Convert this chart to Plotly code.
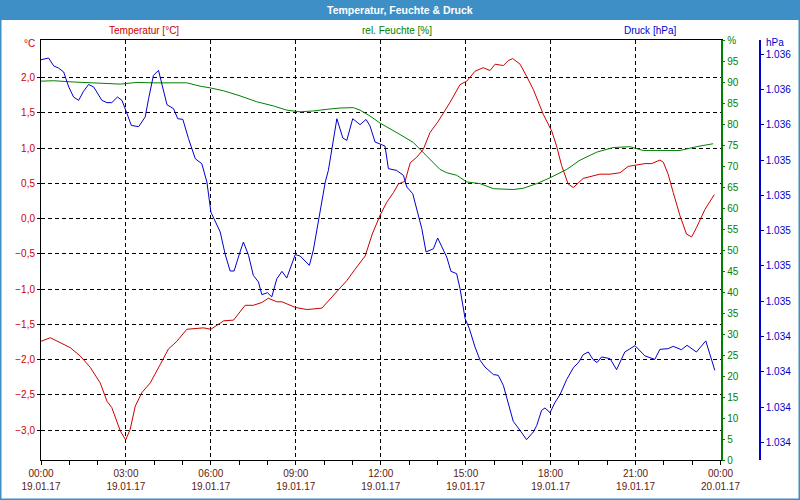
import plotly.graph_objects as go
import pandas as pd

# ---------------- data (hours after 19.01.17 00:00) ----------------
temp_h = [0.0, 0.33, 1.03, 1.39, 1.74, 2.09, 2.33, 2.5, 2.8, 2.99, 3.15, 3.33, 3.56, 3.86,
          4.21, 4.5, 4.8, 5.15, 5.74, 6.0, 6.45, 6.8, 7.21, 7.5, 7.8, 8.03, 8.33, 8.51,
          8.98, 9.39, 9.92, 10.21, 10.45, 10.8, 11.09, 11.45, 11.7, 11.98, 12.21, 12.45,
          12.62, 12.86, 13.04, 13.27, 13.5, 13.74, 14.03, 14.45, 14.8, 15.04, 15.33, 15.62,
          15.86, 16.04, 16.33, 16.5, 16.66, 16.92, 17.15, 17.39, 17.74, 18.04, 18.21, 18.39,
          18.62, 18.8, 19.15, 19.5, 19.74, 20.1, 20.45, 20.74, 21.04, 21.33, 21.57, 21.86,
          21.98, 22.15, 22.33, 22.57, 22.8, 22.98, 23.15, 23.45, 23.78]
temp_v = [-1.74, -1.69, -1.83, -1.95, -2.11, -2.33, -2.59, -2.68, -3.01, -3.14, -2.99, -2.66,
          -2.47, -2.33, -2.07, -1.85, -1.74, -1.57, -1.55, -1.57, -1.45, -1.44, -1.23, -1.23,
          -1.19, -1.13, -1.18, -1.18, -1.26, -1.29, -1.27, -1.14, -1.03, -0.88, -0.72, -0.53,
          -0.22, 0.05, 0.23, 0.37, 0.49, 0.53, 0.79, 0.87, 0.98, 1.22, 1.38, 1.65, 1.90, 1.95,
          2.09, 2.14, 2.10, 2.19, 2.17, 2.24, 2.27, 2.19, 2.02, 1.83, 1.48, 1.24, 1.03, 0.75,
          0.49, 0.44, 0.57, 0.60, 0.63, 0.63, 0.65, 0.74, 0.76, 0.78, 0.78, 0.83, 0.80, 0.63,
          0.37, 0.04, -0.22, -0.26, -0.13, 0.13, 0.34]

hum_h = [0.0, 0.45, 1.15, 1.86, 2.8, 3.39, 3.97, 5.15, 5.62, 5.98, 6.45, 7.03, 7.62, 8.21,
         8.68, 9.15, 9.62, 10.1, 10.56, 11.03, 11.27, 11.62, 11.98, 12.68, 13.15, 13.62,
         14.09, 14.33, 14.68, 15.04, 15.51, 15.98, 16.68, 17.03, 17.51, 17.98, 18.57, 19.04,
         19.63, 20.21, 20.8, 21.27, 21.98, 22.57, 23.15, 23.74]
hum_v = [90.2, 90.3, 90.0, 89.8, 89.5, 89.9, 89.8, 89.8, 89.0, 88.6, 87.9, 86.7, 85.3, 84.3,
         83.3, 82.9, 83.1, 83.5, 83.8, 83.9, 83.3, 81.9, 80.2, 77.5, 75.6, 72.4, 69.2, 68.4,
         67.8, 66.2, 65.8, 64.6, 64.4, 64.7, 65.8, 67.2, 69.2, 71.4, 73.3, 74.4, 74.6, 73.7,
         73.7, 73.7, 74.6, 75.3]

pres_h = [0.0, 0.27, 0.45, 0.62, 0.8, 0.98, 1.15, 1.33, 1.5, 1.68, 1.86, 2.15, 2.33, 2.5,
          2.7, 2.86, 3.04, 3.19, 3.45, 3.68, 3.8, 3.97, 4.15, 4.27, 4.45, 4.68, 4.83, 5.01,
          5.21, 5.45, 5.68, 5.86, 6.0, 6.33, 6.5, 6.68, 6.82, 7.03, 7.15, 7.33, 7.5, 7.68,
          7.8, 8.0, 8.15, 8.33, 8.51, 8.68, 8.98, 9.15, 9.48, 9.62, 9.86, 10.04, 10.15, 10.31,
          10.45, 10.66, 10.8, 11.01, 11.27, 11.48, 11.62, 11.8, 11.98, 12.15, 12.27, 12.56,
          12.8, 12.92, 13.13, 13.27, 13.45, 13.6, 13.86, 14.01, 14.21, 14.33, 14.48, 14.68,
          14.8, 14.98, 15.13, 15.33, 15.51, 15.68, 15.98, 16.15, 16.33, 16.5, 16.68, 16.92,
          17.15, 17.39, 17.51, 17.68, 17.8, 17.98, 18.15, 18.33, 18.57, 18.8, 19.0, 19.15,
          19.33, 19.5, 19.64, 19.8, 20.1, 20.33, 20.62, 20.98, 21.33, 21.68, 21.86, 22.15,
          22.33, 22.62, 22.82, 23.15, 23.48, 23.8]
pres_v = [1035.968, 1035.978, 1035.933, 1035.921, 1035.899, 1035.814, 1035.757, 1035.738,
          1035.789, 1035.828, 1035.814, 1035.738, 1035.725, 1035.725, 1035.757, 1035.738,
          1035.662, 1035.596, 1035.589, 1035.644, 1035.747, 1035.879, 1035.908, 1035.823,
          1035.713, 1035.691, 1035.634, 1035.630, 1035.521, 1035.407, 1035.379, 1035.275,
          1035.105, 1034.992, 1034.869, 1034.771, 1034.771, 1034.879, 1034.935, 1034.860,
          1034.746, 1034.709, 1034.637, 1034.648, 1034.624, 1034.727, 1034.769, 1034.731,
          1034.864, 1034.856, 1034.803, 1034.890, 1035.105, 1035.275, 1035.341, 1035.511,
          1035.634, 1035.525, 1035.511, 1035.634, 1035.600, 1035.630, 1035.593, 1035.502,
          1035.492, 1035.479, 1035.351, 1035.341, 1035.313, 1035.247, 1035.209, 1035.124,
          1035.011, 1034.879, 1034.897, 1034.958, 1034.888, 1034.850, 1034.769, 1034.756,
          1034.671, 1034.501, 1034.444, 1034.340, 1034.265, 1034.227, 1034.184, 1034.180,
          1034.123, 1034.029, 1033.919, 1033.868, 1033.815, 1033.859, 1033.896, 1033.981,
          1033.995, 1033.968, 1034.025, 1034.070, 1034.157, 1034.222, 1034.256, 1034.297,
          1034.312, 1034.269, 1034.252, 1034.284, 1034.274, 1034.212, 1034.312, 1034.348,
          1034.290, 1034.270, 1034.327, 1034.331, 1034.344, 1034.325, 1034.350, 1034.312,
          1034.375, 1034.208]

temp_ticks = [-3.0 + 0.5 * i for i in range(11)]      # -3,0 ... 2,0
hum_ticks = list(range(0, 101, 5))
hum_ticktext = [str(v) for v in hum_ticks[:-1]] + ["%"]
pres_ticks = [1033.8 + 0.2 * i for i in range(12)]

start = pd.Timestamp("2017-01-19 00:00")
def to_time(hours):
    return [start + pd.Timedelta(hours=h) for h in hours]

# ---------------- layout geometry ----------------
W, H = 800, 500
ML, MR, MT, MB = 41, 32, 40, 40
PW = W - ML - MR
PH = H - MT - MB
def px(x):
    return (x - ML) / PW
def py(y):
    return (H - MB - y) / PH

FONT = "Liberation Sans, Arial, sans-serif"
RED, GREEN, BLUE = "#cc0000", "#008000", "#0000cc"
BAR = "#3d8fc6"

fig = go.Figure()
fig.add_trace(go.Scatter(x=to_time(temp_h), y=temp_v, mode="lines",
                         line=dict(color=RED, width=1), yaxis="y", name="Temperatur"))
fig.add_trace(go.Scatter(x=to_time(hum_h), y=hum_v, mode="lines",
                         line=dict(color=GREEN, width=1), yaxis="y2", name="Feuchte"))
fig.add_trace(go.Scatter(x=to_time(pres_h), y=pres_v, mode="lines",
                         line=dict(color=BLUE, width=1), yaxis="y3", name="Druck"))

xdom_end = px(720.5)
fig.update_layout(
    width=W, height=H,
    margin=dict(l=ML, r=MR, t=MT, b=MB, autoexpand=False),
    paper_bgcolor="white", plot_bgcolor="white",
    separators=",.",
    showlegend=False,
    font=dict(family=FONT, size=10),
    xaxis=dict(
        domain=[0, xdom_end], automargin=False,
        type="date",
        range=[start, start + pd.Timedelta(hours=24)],
        tickmode="linear", tick0=start, dtick=3 * 3600000,
        tickformat="%H:%M<br>%d.%m.%y",
        tickfont=dict(color="#5a1a10", size=10, family=FONT),
        ticks="outside", ticklen=4, tickcolor="black",
        ticklabelstandoff=0,
        minor=dict(dtick=3600000, ticks="outside", ticklen=4, tickcolor="black", showgrid=False),
        showgrid=True, gridcolor="black", griddash="4px,3px", gridwidth=1,
        showline=True, linecolor="black", linewidth=1, mirror=True,
        zeroline=False, fixedrange=True,
    ),
    yaxis=dict(
        range=[-3.424, 2.533], automargin=False,
        tickmode="array", tickvals=temp_ticks, tickformat=".1f",
        tickfont=dict(color=RED, size=10, family=FONT),
        ticks="outside", ticklen=3, tickcolor="black",
        showgrid=True, gridcolor="black", griddash="4px,3px", gridwidth=1,
        showline=True, linecolor="black", linewidth=1,
        zeroline=False,
    ),
    yaxis2=dict(
        range=[0, 100], overlaying="y", side="right", anchor="x", automargin=False,
        tickmode="array", tickvals=hum_ticks, ticktext=hum_ticktext,
        tickfont=dict(color=GREEN, size=10, family=FONT),
        ticks="outside", ticklen=3, tickcolor=GREEN,
        showgrid=False, showline=True, linecolor=GREEN, linewidth=1.5,
        zeroline=False,
    ),
    yaxis3=dict(
        range=[1033.70, 1036.08], overlaying="y", side="right", anchor="free", automargin=False,
        position=px(760), tickmode="array", tickvals=pres_ticks,
        tickformat=",.0f",
        tickfont=dict(color=BLUE, size=10, family=FONT),
        ticks="outside", ticklen=3, tickcolor=BLUE,
        showgrid=False, showline=True, linecolor=BLUE, linewidth=1.5,
        zeroline=False,
    ),
)

shapes = [
    # title bar
    dict(type="rect", xref="paper", yref="paper", x0=px(0), x1=px(800), y0=py(20), y1=py(0),
         fillcolor=BAR, line=dict(width=0), layer="above"),
    # window border
    dict(type="rect", xref="paper", yref="paper", x0=px(0), x1=px(800), y0=py(500), y1=py(0),
         fillcolor="rgba(0,0,0,0)", line=dict(color=BAR, width=3), layer="above"),
]
fig.update_layout(shapes=shapes)

ann = [
    dict(text="<b>Temperatur, Feuchte &amp; Druck</b>", x=px(400), y=py(10), xref="paper", yref="paper",
         showarrow=False, font=dict(color="white", size=10.5, family=FONT), xanchor="center", yanchor="middle"),
    dict(text="Temperatur [°C]", x=px(144), y=py(30), xref="paper", yref="paper",
         showarrow=False, font=dict(color=RED, size=10, family=FONT), xanchor="center", yanchor="middle"),
    dict(text="rel. Feuchte [%]", x=px(397), y=py(30), xref="paper", yref="paper",
         showarrow=False, font=dict(color=GREEN, size=10, family=FONT), xanchor="center", yanchor="middle"),
    dict(text="Druck [hPa]", x=px(650), y=py(30), xref="paper", yref="paper",
         showarrow=False, font=dict(color=BLUE, size=10, family=FONT), xanchor="center", yanchor="middle"),
    dict(text="°C", x=px(37), y=py(44), xref="paper", yref="paper",
         showarrow=False, font=dict(color=RED, size=10, family=FONT), xanchor="right", yanchor="middle"),
    dict(text="hPa", x=px(764), y=py(43), xref="paper", yref="paper",
         showarrow=False, font=dict(color=BLUE, size=10, family=FONT), xanchor="left", yanchor="middle"),
]
fig.update_layout(annotations=ann)

fig.write_html("out.html")
